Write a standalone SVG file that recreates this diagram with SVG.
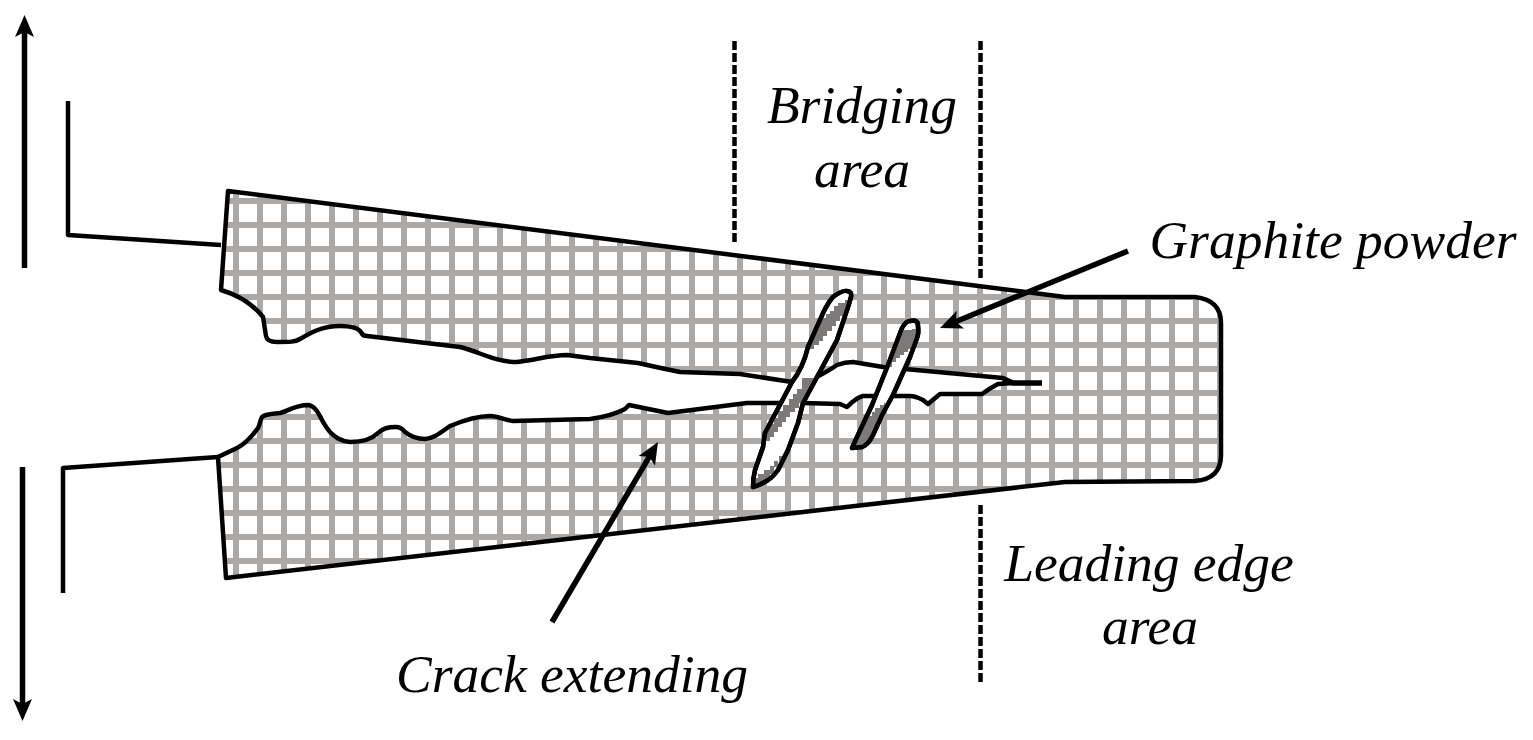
<svg xmlns="http://www.w3.org/2000/svg" width="1533" height="740" viewBox="0 0 1533 740">
<style>
.ln{fill:none;stroke:#000;stroke-width:4.5;stroke-linejoin:round}
.ar{fill:none;stroke:#000;stroke-width:5.5;stroke-linecap:butt}
.ds{fill:none;stroke:#000;stroke-width:4.5;stroke-dasharray:9 3}
.fb{fill:#fff;stroke:#000;stroke-width:4.5;stroke-linejoin:round}
.gr{fill:#7d7979;shape-rendering:crispEdges}
text{font-family:"Liberation Serif","Times New Roman",serif;font-style:italic;font-size:53.5px;fill:#000;text-anchor:middle}
</style>
<defs>
<pattern id="grid" patternUnits="userSpaceOnUse" x="224" y="213" width="24" height="24">
<rect width="24" height="24" fill="#fff"/>
<rect x="9" width="6" height="24" fill="#aca8a6"/>
<rect y="9" width="24" height="6" fill="#aca8a6"/>
</pattern>
<marker id="head" markerUnits="userSpaceOnUse" viewBox="0 -11 24 22" markerWidth="24" markerHeight="22" refX="12" refY="0" orient="auto">
<path d="M0,-9.500L22,0L0,9.500L5,0Z" fill="#000"/>
</marker>
<clipPath id="f1"><path d="M753,487Q753,478 755,470L763,447L765,433L792,382Q803,368 808,347L820,320Q826,305 833,297Q842,290 847,291Q852,291 851,297L848,307L837,340L817,377L803,403L798,423L788,450L778,470Q772,478 768,480Q760,485 753,487Z"/></clipPath>
<clipPath id="f2"><path d="M852,448L858,435L872,405L888,365L902,328Q906,321 910,321Q918,319 918,326Q919,333 917,338L910,357L893,395L882,415L873,435Q868,445 862,447Z"/></clipPath>
</defs>
<rect width="1533" height="740" fill="#fff"/>

<g id="specimen">
<path class="ln" style="fill:url(#grid)" d="M228,191L221,290Q248,298 263,317L266,336Q267,342 277,342C290,342 295,342 300,339C310,333 322,326 340,326C350,326 358,328 361,332C362,335 365,336 367,336L460,347C480,352 495,362 517,362C535,360 550,355 567,355L590,358L638,363Q660,368 680,372L740,374L792,382L815,378Q830,370 837,365Q845,362 853,362L883,367L1003,378L1013,383L998,384Q990,388 982,394L940,394L928,404L923,400Q915,396 910,396L863,396Q857,397 847,407L840,404L803,403L747,403L668,413L629,405L625,409Q612,416 590,419L513,421C505,420 498,416 490,416C475,416 462,421 450,426C440,433 433,439 425,439C415,439 410,436 405,432C402,428 400,427 396,427C388,427 383,428 378,433C373,438 365,442 350,442C340,441 335,437 330,432C322,423 320,414 316,410C313,406 310,405 307,405C293,406 288,411 280,413C272,414 265,414 262,417C260,420 260,425 258,428C250,439 243,445 237,448L218,457L226,578L1065,482L1195,481Q1221,479 1221,455L1221,323Q1221,300 1195,297L1065,297Z"/>
<path class="ar" d="M1003,379L1013,383L1042,383"/>
</g>

<g id="fiber-1">
<path class="fb" d="M753,487Q753,478 755,470L763,447L765,433L792,382Q803,368 808,347L820,320Q826,305 833,297Q842,290 847,291Q852,291 851,297L848,307L837,340L817,377L803,403L798,423L788,450L778,470Q772,478 768,480Q760,485 753,487Z"/>
<g clip-path="url(#f1)">
<path class="gr" d="M826,318V314H830V311H834V306H838V303H845V300H852V306H848V316H840V321H836V326H832V331H827V336H823V341H819V345H814V349H808V318Z"/>
<path class="gr" d="M802,378H816V388H811V394H807V398H803V403H799V408H795V412H790V417H786V422H782V427H778V432H774V437H770V441H766V446H760V436H766V430H770V424H774V418H778V411H783V405H789V399H793V394H797V389H802Z"/>
<path class="gr" d="M779,456H783V461H778V467H774V474H770V479H766V484H750V478H758V474H764V470H770V466H774V461H779Z"/>
</g>
<path class="fb" style="fill:none" d="M753,487Q753,478 755,470L763,447L765,433L792,382Q803,368 808,347L820,320Q826,305 833,297Q842,290 847,291Q852,291 851,297L848,307L837,340L817,377L803,403L798,423L788,450L778,470Q772,478 768,480Q760,485 753,487Z"/>
</g>

<g id="fiber-2">
<path class="fb" d="M852,448L858,435L872,405L888,365L902,328Q906,321 910,321Q918,319 918,326Q919,333 917,338L910,357L893,395L882,415L873,435Q868,445 862,447Z"/>
<g clip-path="url(#f2)">
<path class="gr" d="M903,334V330H912V329H920V345H912V349H908V352H904V355H900V358H896V362H892V367H885V350H893V343H897V338H900V334Z"/>
<path class="gr" d="M884,403H888V412H884V420H880V428H876V436H872V442H866V449H850V444H855V437H858V431H862V425H865V420H868V416H872V412H875V408H880V405H884Z"/>
</g>
<path class="fb" style="fill:none" d="M852,448L858,435L872,405L888,365L902,328Q906,321 910,321Q918,319 918,326Q919,333 917,338L910,357L893,395L882,415L873,435Q868,445 862,447Z"/>
</g>

<g id="grips">
<path class="ln" d="M68,101V235L221,245"/>
<path class="ln" d="M63,593V468L218,457"/>
</g>

<g id="connectors">
<path class="ar" marker-end="url(#head)" d="M24.500,268V25"/>
<path class="ar" marker-end="url(#head)" d="M22.500,467V711"/>
<path class="ar" marker-end="url(#head)" d="M1128,251L949.300,324.200"/>
<path class="ar" marker-end="url(#head)" d="M552,622L652.900,450.600"/>
<path class="ds" d="M734.500,41V245"/>
<path class="ds" d="M980.500,41V278"/>
<path class="ds" d="M980.500,505V683"/>
</g>

<g id="label-bridging"><text x="862" y="123">Bridging</text><text x="862" y="187">area</text></g>
<g id="label-graphite"><text x="1333" y="258">Graphite powder</text></g>
<g id="label-leading"><text x="1149" y="581">Leading edge</text><text x="1150" y="644">area</text></g>
<g id="label-crack"><text x="572" y="692">Crack extending</text></g>
</svg>
